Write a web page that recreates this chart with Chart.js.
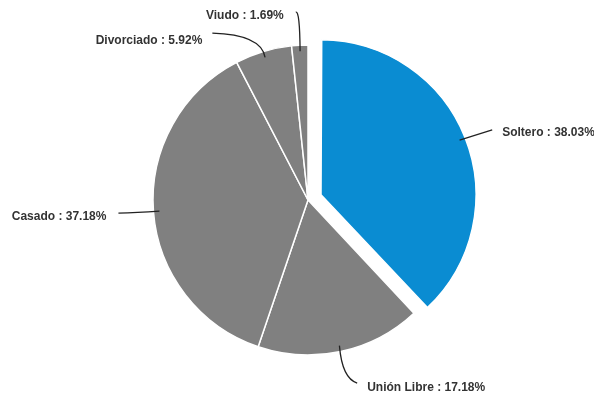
<!DOCTYPE html>
<html>
<head>
<meta charset="utf-8">
<script src="https://cdn.jsdelivr.net/npm/chart.js@4/dist/chart.umd.min.js"></script>
<style>
  html, body { margin: 0; padding: 0; background: #fff; }
  #wrap { width: 594px; height: 399px; position: relative; }
</style>
</head>
<body>
<div id="wrap"><canvas id="pieChart"></canvas></div>
<script>
const categories = ['Soltero', 'Unión Libre', 'Casado', 'Divorciado', 'Viudo'];
const percentages = [38.03, 17.18, 37.18, 5.92, 1.69];
const sliceColors = ['#0a8cd2', '#808080', '#808080', '#808080', '#808080'];
const explodePx = [14, 0, 0, 0, 0];

// leader line / text placement, relative to the point on the arc at mid angle
const labelStyle = [
    { line: [27, -8], ctrl: [14, -4], text: [37, -5], align: 'left' },
    { line: [16.5, 31.5], ctrl: [1.5, 27], text: [26.5, 36.5], align: 'left' },
    { line: [-35, 1.5], ctrl: [-17, 1], text: [-47, 5.5], align: 'right' },
    { line: [-51, -18.5], ctrl: [-2, -17], text: [-61, -10.5], align: 'right' },
    { line: [-4, -33], ctrl: [0, -35], text: [-16, -30], align: 'right' }
];

// Chart.js v4 moves an arc by offset / 4 and also grows its radius a little;
// undo that growth so the exploded slice keeps the same radius
const keepRadius = {
    id: 'keepRadius',
    afterDatasetUpdate(chart, args) {
        const meta = chart.getDatasetMeta(args.index);
        meta.data.forEach((arc, i) => {
            const off = explodePx[i];
            if (!off) return;
            const fix = 1 - Math.sin(Math.min(Math.PI, arc.circumference || 0));
            arc.outerRadius = arc.outerRadius - off * fix;
        });
    }
};

const leaderLabels = {
    id: 'leaderLabels',
    afterDatasetsDraw(chart) {
        const ctx = chart.ctx;
        const meta = chart.getDatasetMeta(0);
        const r = 155;
        ctx.save();
        meta.data.forEach((arc, i) => {
            const p = arc.getProps(['x', 'y', 'startAngle', 'endAngle']);
            const mid = (p.startAngle + p.endAngle) / 2;
            const ax = p.x + Math.cos(mid) * (r + explodePx[i]);
            const ay = p.y + Math.sin(mid) * (r + explodePx[i]);
            const s = labelStyle[i];
            ctx.strokeStyle = '#222';
            ctx.lineWidth = 1.3;
            ctx.beginPath();
            ctx.moveTo(ax - Math.cos(mid) * 6, ay - Math.sin(mid) * 6);
            ctx.quadraticCurveTo(ax + s.ctrl[0], ay + s.ctrl[1], ax + s.line[0], ay + s.line[1]);
            ctx.stroke();
            ctx.fillStyle = '#333';
            ctx.font = 'bold 12px "Liberation Sans", Arial, sans-serif';
            ctx.textAlign = s.align;
            ctx.textBaseline = 'middle';
            ctx.fillText(categories[i] + ' : ' + percentages[i].toFixed(2) + '%', ax + s.text[0], ay + s.text[1]);
        });
        ctx.restore();
    }
};

new Chart(document.getElementById('pieChart'), {
    type: 'pie',
    data: {
        labels: categories,
        datasets: [{
            data: percentages,
            backgroundColor: sliceColors,
            borderColor: '#ffffff',
            borderWidth: 1.5,
            offset: explodePx.map(v => v * 4),
            hoverOffset: 0
        }]
    },
    options: {
        responsive: true,
        maintainAspectRatio: false,
        animation: false,
        radius: 155,
        layout: { padding: { left: 22, top: 1 } },
        plugins: {
            legend: { display: false },
            tooltip: { enabled: false }
        }
    },
    plugins: [keepRadius, leaderLabels]
});
</script>
</body>
</html>
